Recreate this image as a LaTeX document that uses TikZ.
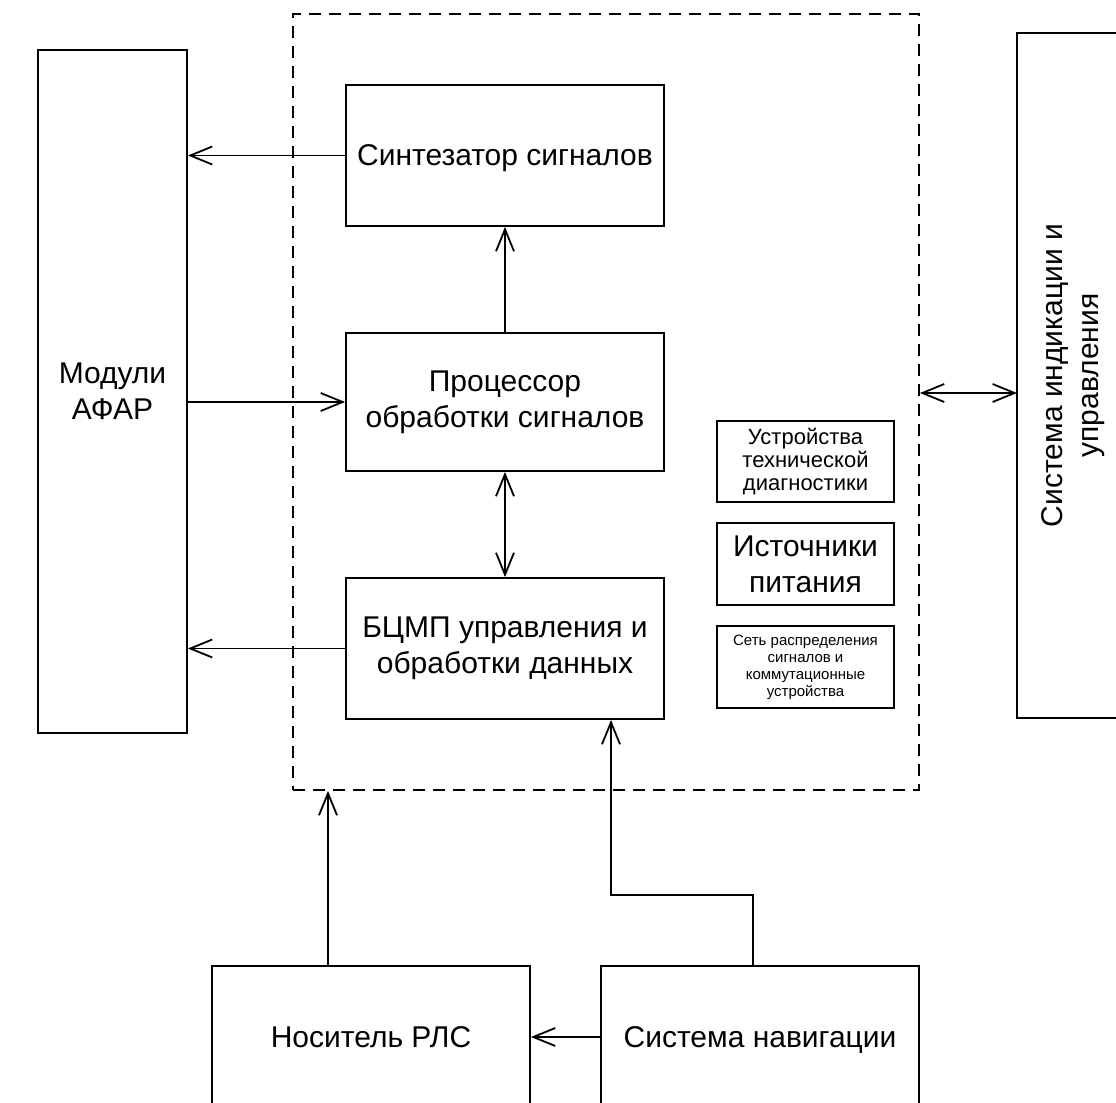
\documentclass[tikz,border=0pt]{standalone}
\usepackage{fontspec}
\setmainfont{Liberation Sans}
\usetikzlibrary{arrows.meta, positioning}

\begin{document}
\begin{tikzpicture}[
        x=0.5pt, y=-0.5pt,
        box/.style={draw, line width=0.9pt, align=center, inner sep=0pt,
                    font=\fontsize{15}{18}\selectfont},
        blockbox/.style={box, minimum width=159pt, minimum height=70.5pt},
        smallbox/.style={box, minimum width=88.5pt, minimum height=41pt},
        unitbox/.style={draw, line width=0.9pt, dash pattern=on 6pt off 4pt,
                        minimum width=313pt, minimum height=388pt, inner sep=0pt},
        arrow/.style={-{Straight Barb[length=11pt,width=9pt]}, line width=0.9pt},
        dblarrow/.style={{Straight Barb[length=11pt,width=9pt]}-{Straight Barb[length=11pt,width=9pt]}, line width=0.9pt},
    ]

    \path[use as bounding box, clip] (0,0) rectangle (1116,1103);

    % ---------- radar unit (dashed frame) ----------------------------------
    \node[unitbox] (unit) at (606,402) {};

    \node[blockbox, text depth=0pt] (synth) at (505,155.5) {Синтезатор сигналов};
    \node[blockbox, minimum height=69pt] (proc) at (505,402) {Процессор\\обработки сигналов};
    \node[blockbox] (bcmp) at (505,648.5) {БЦМП управления и\\обработки данных};

    \node[smallbox, minimum height=40.5pt, font=\fontsize{11}{11.5}\selectfont] (diag) at (805.5,461.5)
        {Устройства\\технической\\диагностики};
    \node[smallbox] (power) at (805.5,564) {Источники\\питания};
    \node[smallbox, font=\fontsize{7.5}{8.5}\selectfont] (net) at (805.5,667)
        {Сеть распределения\\сигналов и\\коммутационные\\устройства};

    % ---------- outer systems ----------------------------------------------
    \node[box, minimum width=74.5pt, minimum height=341.5pt] (afar) at (112.5,391.5) {Модули\\АФАР};
    \node[box, rotate=90, minimum width=342.5pt, minimum height=56pt] (sys) at (1073,375.5)
        {Система индикации и\\управления};
    \node[blockbox, minimum height=71pt] (carrier) at (371,1037) {Носитель РЛС};
    \node[blockbox, minimum height=71pt, text depth=0pt] (nav) at (760,1037) {Система навигации};

    \coordinate (syslink) at (1017,393);
    \coordinate (carup) at (328,966);
    \coordinate (navbend) at (611,895);

    % ---------- links inside the unit ----------------------------------------
    \draw[arrow] (proc.north) -- (synth.south);
    \draw[dblarrow] (proc.south) -- (bcmp.north);

    % ---------- links to the antenna modules -------------------------------
    \draw[arrow] (synth.west) -- (synth.west -| afar.east);
    \draw[arrow] (proc.west -| afar.east) -- (proc.west);
    \draw[arrow] (bcmp.west) -- (bcmp.west -| afar.east);

    % ---------- display system, carrier, navigation --------------------------
    \draw[dblarrow] (unit.east |- syslink) -- (syslink);
    \draw[arrow] (carup) -- (carup |- unit.south);
    \draw[arrow] ([xshift=-3.5pt]nav.north) |- (navbend) -- (navbend |- bcmp.south);
    \draw[arrow] (nav.west) -- (carrier.east);

\end{tikzpicture}
\end{document}
